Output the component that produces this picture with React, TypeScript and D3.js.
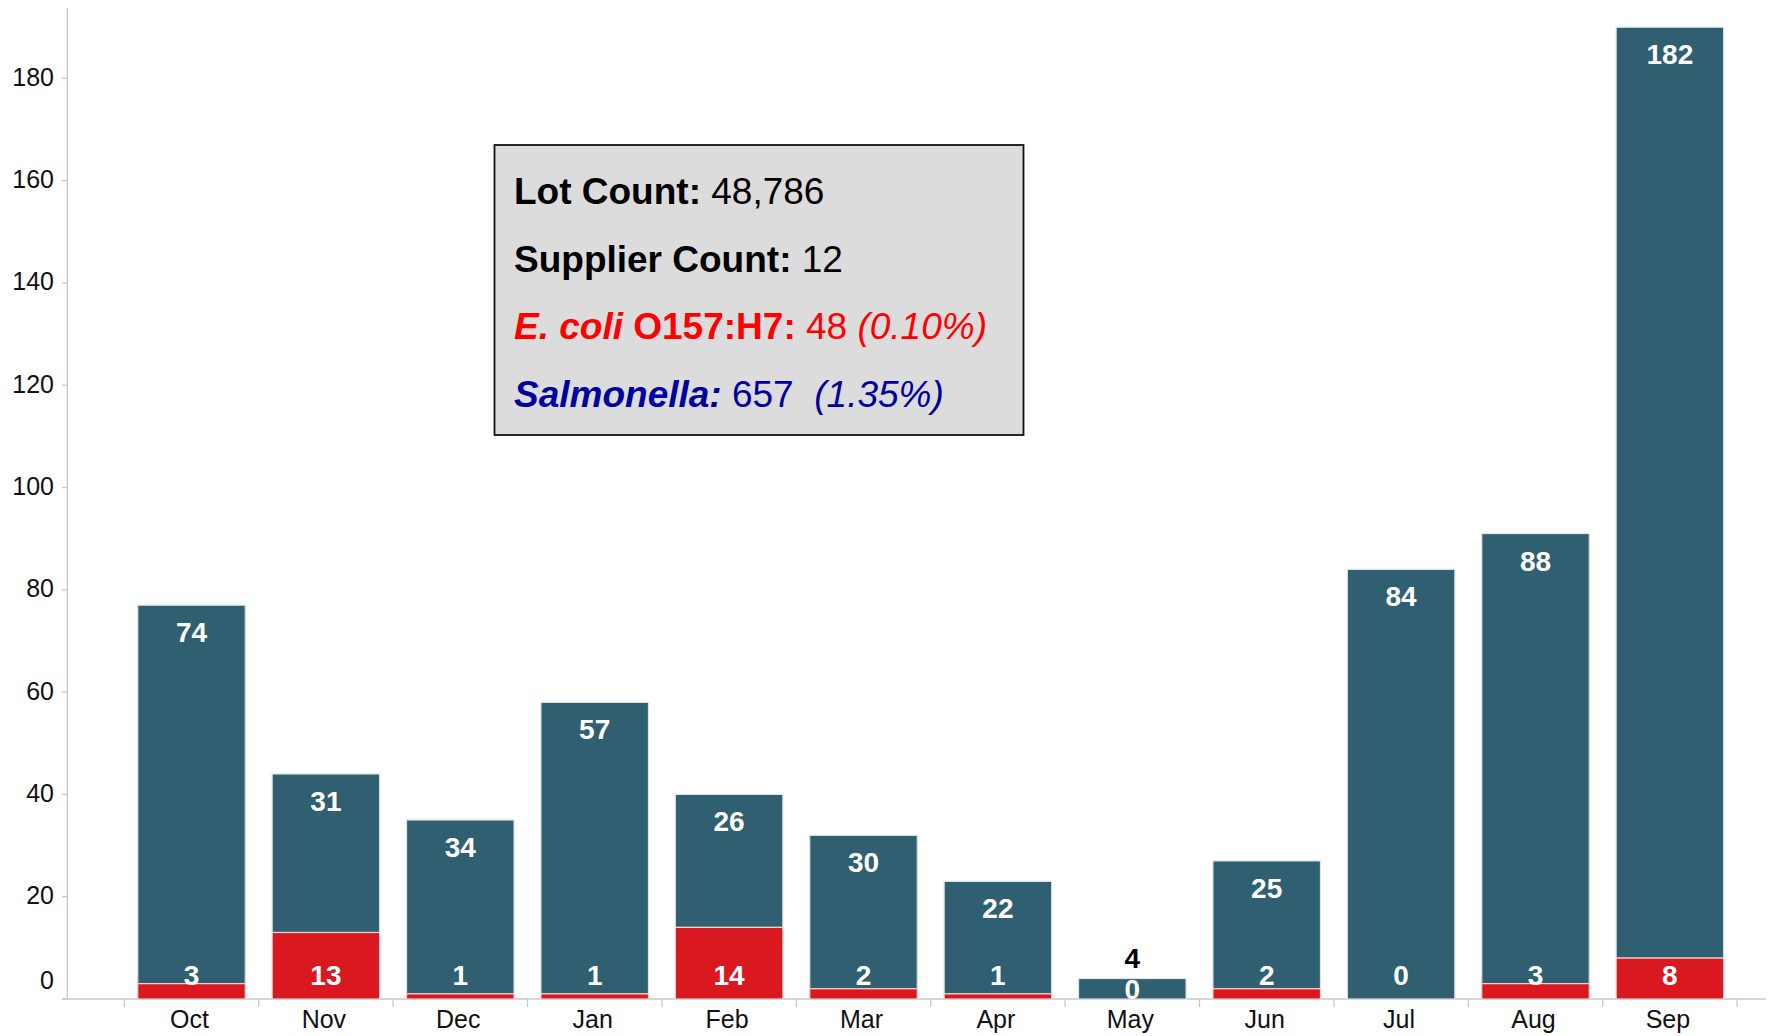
import React from 'react'
import * as d3 from 'd3'

const months = ['Oct', 'Nov', 'Dec', 'Jan', 'Feb', 'Mar', 'Apr', 'May', 'Jun', 'Jul', 'Aug', 'Sep']
const ecoli = [3, 13, 1, 1, 14, 2, 1, 0, 2, 0, 3, 8]
const salmonella = [74, 31, 34, 57, 26, 30, 22, 4, 25, 84, 88, 182]
const yTicks = [0, 20, 40, 60, 80, 100, 120, 140, 160, 180]

const W = 1775
const H = 1036
const TEAL = '#2f5f70'
const RED = '#d9181f'
const FONT = '"Liberation Sans", Arial, sans-serif'

export default function App() {
  const x = d3.scaleBand()
    .domain(months)
    .range([124.3, 1737.1])
    .paddingInner(0.2)
    .paddingOuter(0.1)
  const y = d3.scaleLinear()
    .domain([0, 190])
    .range([999, 27.2])

  const rows = months.map((m, i) => ({ m, e: ecoli[i], s: salmonella[i], total: ecoli[i] + salmonella[i] }))
  const step = x.step()
  const x0 = x.range()[0]

  return (
    <svg width={W} height={H} style={{ position: 'absolute', left: 0, top: 0, background: '#fff' }} fontFamily={FONT}>
      {/* y axis */}
      <line x1={67.3} x2={67.3} y1={8} y2={y(0)} stroke="#c8c8c8" strokeWidth={1.3} />
      {yTicks.map(t => (
        <g key={t}>
          <line x1={62} x2={67.3} y1={y(t)} y2={y(t)} stroke="#c8c8c8" strokeWidth={1.3} />
          <text x={54} y={t === 0 ? y(t) - 19 : y(t) - 1.5} dy="0.36em" textAnchor="end" fontSize={25} fill="#111">{t}</text>
        </g>
      ))}

      {/* x axis */}
      <line x1={62} x2={1766} y1={y(0)} y2={y(0)} stroke="#c8c8c8" strokeWidth={1.3} />
      {d3.range(months.length + 1).map(i => (
        <line key={i} x1={x0 + i * step} x2={x0 + i * step} y1={y(0)} y2={y(0) + 8} stroke="#c8c8c8" strokeWidth={1.3} />
      ))}
      {months.map(m => (
        <text key={m} x={(x(m) as number) + x.bandwidth() / 2 - 2} y={1028} textAnchor="middle" fontSize={25} fill="#111">{m}</text>
      ))}

      {/* bars */}
      {rows.map(d => {
        const bx = x(d.m) as number
        const bw = x.bandwidth()
        const cx = bx + bw / 2
        const topInside = y(d.e) - y(d.total) > 40
        return (
          <g key={d.m}>
            {d.s > 0 && (
              <rect x={bx} y={y(d.total)} width={bw} height={y(d.e) - y(d.total)} fill={TEAL} stroke="#dde3e6" strokeWidth={1.2} />
            )}
            {d.e > 0 && (
              <rect x={bx} y={y(d.e)} width={bw} height={y(0) - y(d.e)} fill={RED} stroke="#f0d0d0" strokeWidth={1.2} />
            )}
            <text x={cx} y={topInside ? y(d.total) + 37 : y(d.total) - 11} textAnchor="middle"
              fontSize={28} fontWeight="bold" fill={topInside ? '#fff' : '#000'}>{d.s}</text>
            <text x={cx} y={Math.max(y(0) - 14, y(d.total) + 20)} textAnchor="middle"
              fontSize={28} fontWeight="bold" fill="#fff">{d.e}</text>
          </g>
        )
      })}

      {/* info box */}
      <rect x={494.5} y={145} width={529} height={290} fill="#dcdcdc" stroke="#111" strokeWidth={1.8} />
      <text x={514} y={204} fontSize={37} fill="#000">
        <tspan fontWeight="bold">Lot Count:</tspan> 48,786
      </text>
      <text x={514} y={271.5} fontSize={37} fill="#000">
        <tspan fontWeight="bold">Supplier Count:</tspan> 12
      </text>
      <text x={514} y={338.5} fontSize={37} fill="#ff0000" xmlSpace="preserve">
        <tspan fontWeight="bold" fontStyle="italic">E. coli</tspan>
        <tspan fontWeight="bold"> O157:H7:</tspan>
        <tspan> 48 </tspan>
        <tspan fontStyle="italic">(0.10%)</tspan>
      </text>
      <text x={514} y={406.5} fontSize={37} fill="#0000a0" xmlSpace="preserve">
        <tspan fontWeight="bold" fontStyle="italic">Salmonella:</tspan>
        <tspan> 657 </tspan>
        <tspan fontStyle="italic"> (1.35%)</tspan>
      </text>
    </svg>
  )
}
